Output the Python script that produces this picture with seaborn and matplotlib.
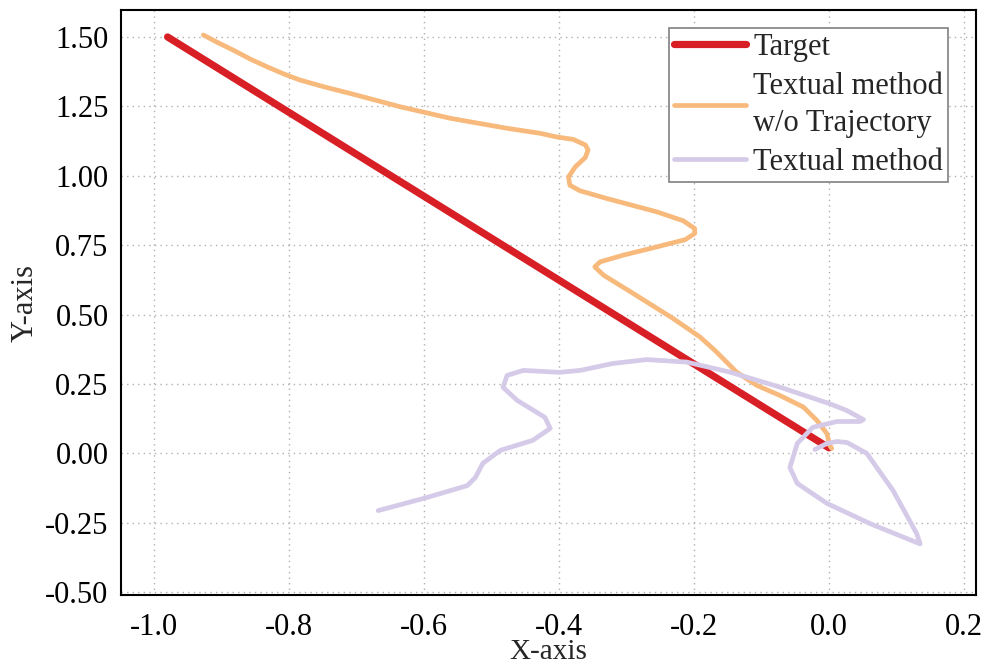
import numpy as np
import pandas as pd
import seaborn as sns
import matplotlib.pyplot as plt

# target path (straight line)
target_x = [-0.98, 0.0]
target_y = [1.50, 0.02]

# textual method w/o trajectory (orange)
notraj_x = [-0.927, -0.905, -0.883, -0.858, -0.833, -0.808, -0.784, -0.746, -0.710,
            -0.636, -0.561, -0.477, -0.428,
            -0.404, -0.379, -0.361, -0.357, -0.361, -0.376, -0.386, -0.384, -0.369,
            -0.329, -0.255, -0.216, -0.199, -0.199, -0.213, -0.255, -0.305, -0.339,
            -0.347, -0.334, -0.290, -0.231, -0.191, -0.169, -0.137, -0.107, -0.073,
            -0.038, -0.018, -0.003, 0.001, 0.004]
notraj_y = [1.507, 1.479, 1.453, 1.421, 1.393, 1.367, 1.345, 1.319, 1.297,
            1.249, 1.207, 1.171, 1.153,
            1.140, 1.131, 1.111, 1.093, 1.066, 1.032, 0.996, 0.966, 0.946,
            0.918, 0.870, 0.838, 0.810, 0.792, 0.770, 0.744, 0.714, 0.690,
            0.672, 0.642, 0.576, 0.486, 0.419, 0.371, 0.293, 0.245, 0.209,
            0.167, 0.119, 0.071, 0.029, 0.018]

# textual method (purple)
textual_x = [-0.668, -0.596, -0.536, -0.524, -0.513, -0.487, -0.439, -0.413, -0.421,
             -0.462, -0.483, -0.477, -0.453, -0.399, -0.369, -0.320, -0.270, -0.211,
             -0.147, -0.073, 0.001, 0.026, 0.051, 0.046, 0.012, -0.024, -0.047,
             -0.058, -0.047, -0.003, 0.061, 0.135, 0.130, 0.095, 0.056, 0.027,
             0.012, -0.003, -0.021]
textual_y = [-0.206, -0.159, -0.116, -0.087, -0.036, 0.011, 0.047, 0.090, 0.130,
             0.191, 0.238, 0.281, 0.299, 0.292, 0.299, 0.324, 0.338, 0.329,
             0.293, 0.239, 0.179, 0.155, 0.122, 0.115, 0.115, 0.094, 0.036,
             -0.051, -0.108, -0.180, -0.253, -0.326, -0.289, -0.134, 0.000, 0.039,
             0.043, 0.036, 0.014]

sns.set_style('white')
plt.rcParams['font.family'] = ['Liberation Serif', 'DejaVu Serif']
plt.rcParams['font.size'] = 22

fig = plt.figure(figsize=(9.87, 6.69), dpi=100)
ax = fig.add_axes([0.1226, 0.1106, 0.8664, 0.8744])

df_t = pd.DataFrame({'x': target_x, 'y': target_y})
df_n = pd.DataFrame({'x': notraj_x, 'y': notraj_y})
df_p = pd.DataFrame({'x': textual_x, 'y': textual_y})

sns.lineplot(data=df_t, x='x', y='y', sort=False, estimator=None, ax=ax,
             color='#d91f26', lw=5.2, label='Target', solid_capstyle='round')
sns.lineplot(data=df_n, x='x', y='y', sort=False, estimator=None, ax=ax,
             color='#f8ba7c', lw=3.4, label='Textual method\nw/o Trajectory',
             solid_joinstyle='round', solid_capstyle='round')
sns.lineplot(data=df_p, x='x', y='y', sort=False, estimator=None, ax=ax,
             color='#d5cae8', lw=3.4, label='Textual method',
             solid_joinstyle='round', solid_capstyle='round')

ax.set_xlim(-1.049, 0.218)
ax.set_ylim(-0.51, 1.597)
ax.set_xticks([-1.0, -0.8, -0.6, -0.4, -0.2, 0.0, 0.2])
ax.set_yticks([-0.5, -0.25, 0.0, 0.25, 0.5, 0.75, 1.0, 1.25, 1.5])
ax.set_yticklabels(['-0.50', '-0.25', '0.00', '0.25', '0.50', '0.75', '1.00', '1.25', '1.50'])
ax.set_xticklabels(['-1.0', '-0.8', '-0.6', '-0.4', '-0.2', '0.0', '0.2'])
ax.tick_params(direction='in', length=8, width=1.5, labelsize=22, colors='black')
ax.tick_params(axis='x', pad=13)
ax.tick_params(axis='y', pad=9)
ax.grid(True, linestyle=(0, (1, 3)), color='#b0b0b0', lw=1.0)
for s in ax.spines.values():
    s.set_color('black')
    s.set_linewidth(1.5)

ax.set_xlabel('X-axis', fontsize=21, labelpad=-2)
ax.set_ylabel('Y-axis', fontsize=22, labelpad=4)

leg = ax.legend(loc='upper right', bbox_to_anchor=(0.967, 0.969), fontsize=22,
                fancybox=False, framealpha=1, edgecolor='#808080',
                handlelength=2.35, handletextpad=0.26, labelspacing=0.32,
                borderpad=0.15, borderaxespad=0)
leg.get_frame().set_linewidth(1.2)
for t in leg.get_texts():
    t.set_linespacing(1.4)

plt.savefig('out.png', dpi=100)
